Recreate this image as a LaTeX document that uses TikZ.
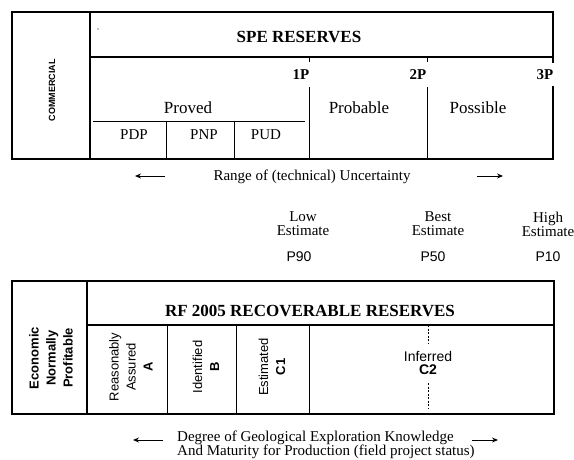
\documentclass[tikz,border=0pt]{standalone}
\usepackage{fontspec}
\setmainfont{Liberation Serif}
\setsansfont{Liberation Sans}
\usetikzlibrary{arrows.meta}
\begin{document}
\begin{tikzpicture}[x=1pt,y=-1pt,
  outer/.style={line width=1.5pt,line cap=rect},
  inner/.style={line width=0.8pt},
  dashln/.style={line width=0.8pt,dash pattern=on 2pt off 1.5pt},
  arr/.style={line width=0.9pt,-{Stealth[length=6pt,width=5pt]}},
  big/.style={font=\fontsize{17}{19}\selectfont},
  mid/.style={font=\fontsize{15}{14}\selectfont},
  tick/.style={font=\bfseries\fontsize{15}{17}\selectfont},
  ttl/.style={font=\bfseries\fontsize{17}{19}\selectfont},
  pv/.style={font=\sffamily\fontsize{14}{16}\selectfont},
  vs/.style={font=\sffamily\fontsize{13}{17}\selectfont,rotate=90,align=center},
  inner sep=0pt]
\useasboundingbox (0,0) rectangle (574,459);

% ---------- top box ----------
\draw[outer] (553,62) -- (553,12) -- (12,12) -- (12,159) -- (553,159) -- (553,87);
\draw[outer] (90,12) -- (90,159);
\draw[outer] (90,57) -- (553,57);
\draw[inner] (93,121) -- (305,121);
\draw[inner] (166,121) -- (166,159);
\draw[inner] (234,121) -- (234,159);
\draw[inner] (309,57) -- (309,62);
\draw[inner] (309,87) -- (309,159);
\draw[inner] (427,57) -- (427,62);
\draw[inner] (427,87) -- (427,159);
\fill (98,29) circle (0.6pt);

\node[vs,font=\sffamily\bfseries\fontsize{9}{11}\selectfont] (comm) at (52,90) {COMMERCIAL};
\node[ttl] (spe) at (299,37) {SPE RESERVES};
\node[tick] (p1) at (301,75) {1P};
\node[tick] (p2) at (418,75) {2P};
\node[tick] (p3) at (545,75) {3P};
\node[big] (proved) at (188,108) {Proved};
\node[big] (probable) at (359,108) {Probable};
\node[big] (possible) at (478,108) {Possible};
\node[mid] (pdp) at (134,135) {PDP};
\node[mid] (pnp) at (204,135) {PNP};
\node[mid] (pud) at (266,135) {PUD};

% ---------- range row ----------
\node[mid] (range) at (312,177) {Range of (technical) Uncertainty};
\coordinate (rl1) at (165,176); \coordinate (rl2) at (135,176);
\coordinate (rr1) at (477,176); \coordinate (rr2) at (503,176);
\draw[arr] (rl1) -- (rl2);
\draw[arr] (rr1) -- (rr2);

\node[mid,align=center] (low) at (303,224) {Low\\Estimate};
\node[mid,align=center] (best) at (438,224) {Best\\Estimate};
\node[mid,align=center] (high) at (548,224) {High\\Estimate};
\node[pv] (p90) at (299,257) {P90};
\node[pv] (p50) at (433,257) {P50};
\node[pv] (p10) at (548,257) {P10};

% ---------- bottom box ----------
\draw[outer] (12,281) rectangle (554,414);
\draw[outer] (87,281) -- (87,414);
\draw[outer] (87,325) -- (554,325);
\draw[inner] (167,325) -- (167,414);
\draw[inner] (236,325) -- (236,414);
\draw[inner] (309,325) -- (309,414);
\draw[dashln] (428,325) -- (428,343);
\draw[dashln] (428,383) -- (428,408);

\node[ttl] (rf) at (310,311) {RF 2005 RECOVERABLE RESERVES};
\node[vs,font=\sffamily\bfseries\fontsize{13}{17}\selectfont] (econ) at (51,358) {Economic\\Normally\\Profitable};
\node[vs] (ra) at (131,367) {Reasonably\\Assured\\\textbf{A}};
\node[vs] (id) at (206,367) {Identified\\\textbf{B}};
\node[vs] (est) at (272,367) {Estimated\\\textbf{C1}};
\node[font=\sffamily\fontsize{14}{13}\selectfont,align=center] (inf) at (428,363) {Inferred\\\textbf{C2}};

% ---------- bottom arrows ----------
\node[mid,align=left,anchor=west] (deg) at (177,445) {Degree of Geological Exploration Knowledge\\And Maturity for Production (field project status)};
\coordinate (dl1) at (163,440); \coordinate (dl2) at (133,440);
\coordinate (dr1) at (472,440); \coordinate (dr2) at (498,440);
\draw[arr] (dl1) -- (dl2);
\draw[arr] (dr1) -- (dr2);
\end{tikzpicture}
\end{document}
